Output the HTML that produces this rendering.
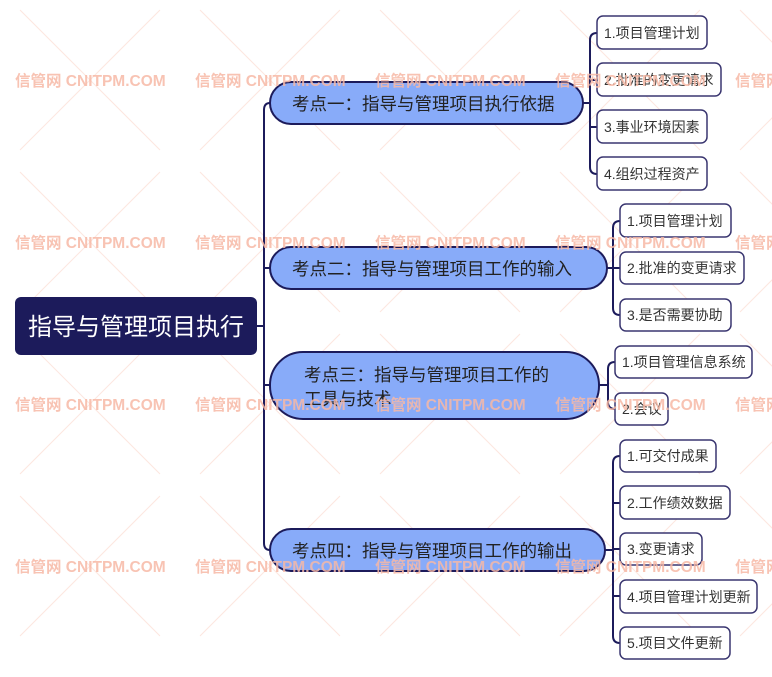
<!DOCTYPE html>
<html><head><meta charset="utf-8"><style>
html,body{margin:0;padding:0;background:#fff;}
svg{display:block;}
text{font-family:"Liberation Sans","Noto Sans CJK SC",sans-serif;}
.wm{font-size:15.5px;font-weight:bold;fill:#f7b9a6;}
.br{fill:#88abf9;stroke:#1c1b5b;stroke-width:2;}
.lf{fill:#fff;stroke:#3a3670;stroke-width:1.5;}
.lt{font-size:14px;fill:#333;}
.bt{font-size:17.5px;fill:#222;}
.ln{fill:none;stroke:#1c1b5b;stroke-width:2;}
</style></head><body>
<svg width="772" height="677" viewBox="0 0 772 677" xmlns="http://www.w3.org/2000/svg">
<g stroke="#fde6df" stroke-width="1">
<path d="M20 10L160 150M160 10L20 150M200 10L340 150M340 10L200 150M380 10L520 150M520 10L380 150M560 10L700 150M700 10L560 150M740 10L880 150M880 10L740 150"/>
<path d="M20 172L160 312M160 172L20 312M200 172L340 312M340 172L200 312M380 172L520 312M520 172L380 312M560 172L700 312M700 172L560 312M740 172L880 312M880 172L740 312"/>
<path d="M20 334L160 474M160 334L20 474M200 334L340 474M340 334L200 474M380 334L520 474M520 334L380 474M560 334L700 474M700 334L560 474M740 334L880 474M880 334L740 474"/>
<path d="M20 496L160 636M160 496L20 636M200 496L340 636M340 496L200 636M380 496L520 636M520 496L380 636M560 496L700 636M700 496L560 636M740 496L880 636M880 496L740 636"/>
</g>
<path class="ln" d="M257 326H264M270 103H270Q264 103 264 110V543Q264 550 270 550M264 268H270M264 385H270"/>
<path class="ln" d="M583 103H590M597 33Q590 33 590 40V167Q590 174 597 174M590 80H597M590 127H597"/>
<path class="ln" d="M607 268H613M620 221Q613 221 613 228V308Q613 315 620 315M613 268H620"/>
<path class="ln" d="M599 385H608M615 362Q608 362 608 369V402Q608 409 615 409"/>
<path class="ln" d="M605 550H613M620 456Q613 456 613 463V636Q613 643 620 643M613 503H620M613 549H620M613 596H620"/>
<rect x="15" y="297" width="242" height="58" rx="6" fill="#1c1b5b"/>
<text x="136" y="335" text-anchor="middle" font-size="24" fill="#fff">指导与管理项目执行</text>
<rect class="br" x="270" y="82" width="313" height="42" rx="21"/>
<text class="bt" x="292" y="110">考点一：指导与管理项目执行依据</text>
<rect class="br" x="270" y="247" width="337" height="42" rx="21"/>
<text class="bt" x="292" y="275">考点二：指导与管理项目工作的输入</text>
<rect class="br" x="270" y="352" width="329" height="67" rx="33"/>
<text class="bt" x="304" y="381">考点三：指导与管理项目工作的</text>
<text class="bt" x="304" y="405">工具与技术</text>
<rect class="br" x="270" y="529" width="335" height="42" rx="21"/>
<text class="bt" x="292" y="557">考点四：指导与管理项目工作的输出</text>
<rect class="lf" x="597" y="16" width="110" height="33" rx="6"/><text class="lt" x="604" y="38">1.项目管理计划</text>
<rect class="lf" x="597" y="63" width="124" height="33" rx="6"/><text class="lt" x="604" y="85">2.批准的变更请求</text>
<rect class="lf" x="597" y="110" width="110" height="33" rx="6"/><text class="lt" x="604" y="132">3.事业环境因素</text>
<rect class="lf" x="597" y="157" width="110" height="33" rx="6"/><text class="lt" x="604" y="179">4.组织过程资产</text>
<rect class="lf" x="620" y="204" width="111" height="33" rx="6"/><text class="lt" x="627" y="226">1.项目管理计划</text>
<rect class="lf" x="620" y="252" width="124" height="32" rx="6"/><text class="lt" x="627" y="273">2.批准的变更请求</text>
<rect class="lf" x="620" y="299" width="111" height="32" rx="6"/><text class="lt" x="627" y="320">3.是否需要协助</text>
<rect class="lf" x="615" y="346" width="137" height="32" rx="6"/><text class="lt" x="622" y="367">1.项目管理信息系统</text>
<rect class="lf" x="615" y="393" width="53" height="32" rx="6"/><text class="lt" x="622" y="414">2.会议</text>
<rect class="lf" x="620" y="440" width="96" height="32" rx="6"/><text class="lt" x="627" y="461">1.可交付成果</text>
<rect class="lf" x="620" y="486" width="110" height="33" rx="6"/><text class="lt" x="627" y="508">2.工作绩效数据</text>
<rect class="lf" x="620" y="533" width="82" height="32" rx="6"/><text class="lt" x="627" y="554">3.变更请求</text>
<rect class="lf" x="620" y="580" width="137" height="33" rx="6"/><text class="lt" x="627" y="602">4.项目管理计划更新</text>
<rect class="lf" x="620" y="627" width="110" height="32" rx="6"/><text class="lt" x="627" y="648">5.项目文件更新</text>
<g class="wm" opacity="0.85">
<text x="15" y="86">信管网 CNITPM.COM</text><text x="195" y="86">信管网 CNITPM.COM</text><text x="375" y="86">信管网 CNITPM.COM</text><text x="555" y="86">信管网 CNITPM.COM</text><text x="735" y="86">信管网 CNITPM.COM</text>
<text x="15" y="248">信管网 CNITPM.COM</text><text x="195" y="248">信管网 CNITPM.COM</text><text x="375" y="248">信管网 CNITPM.COM</text><text x="555" y="248">信管网 CNITPM.COM</text><text x="735" y="248">信管网 CNITPM.COM</text>
<text x="15" y="410">信管网 CNITPM.COM</text><text x="195" y="410">信管网 CNITPM.COM</text><text x="375" y="410">信管网 CNITPM.COM</text><text x="555" y="410">信管网 CNITPM.COM</text><text x="735" y="410">信管网 CNITPM.COM</text>
<text x="15" y="572">信管网 CNITPM.COM</text><text x="195" y="572">信管网 CNITPM.COM</text><text x="375" y="572">信管网 CNITPM.COM</text><text x="555" y="572">信管网 CNITPM.COM</text><text x="735" y="572">信管网 CNITPM.COM</text>
</g>
</svg>
</body></html>
